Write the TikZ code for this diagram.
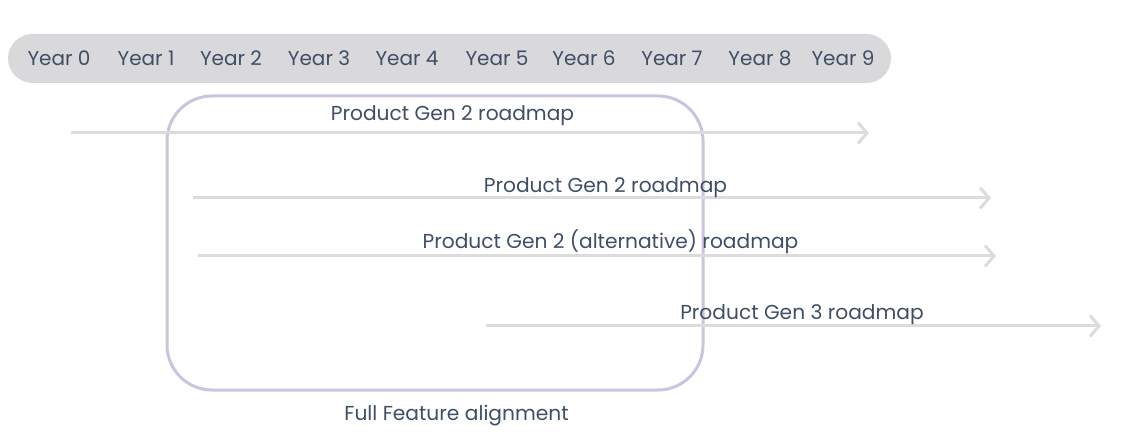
\documentclass[tikz,border=0pt]{standalone}
\usepackage{fontspec}
\setmainfont{Poppins}
\usetikzlibrary{arrows.meta}
\definecolor{bargray}{HTML}{D9D9DB}
\definecolor{txt}{HTML}{3F4E66}
\definecolor{arrowgray}{HTML}{DCDCDC}
\definecolor{boxlilac}{HTML}{CDC3DC}
\begin{document}
\begin{tikzpicture}[x=1pt,y=-1pt,
  yearlbl/.style={text=txt,font=\fontsize{20}{22}\selectfont,inner sep=0pt,anchor=base},
  roadlbl/.style={text=txt,font=\fontsize{20.2}{22}\selectfont,inner sep=0pt,anchor=base},
  roadarrow/.style={draw=arrowgray,line width=3pt,-{Straight Barb[length=9pt,width=21pt,line width=3pt]}},
  alignbox/.style={draw=boxlilac,line width=3pt,rounded corners=45pt}]
\useasboundingbox (0,0) rectangle (1138,438);
% year bar
\fill[bargray,rounded corners=24.5pt] (8,34) rectangle (891,83);
\foreach \i/\x in {0/59,1/146,2/231,3/319,4/407,5/497,6/584,7/672,8/760,9/843}
  \node[yearlbl] (y\i) at (\x,65.5) {Year \i};
% alignment box
\draw[alignbox] (167,96) rectangle (703,390);
\node[roadlbl] (fullfeat) at (456.5,420.5) {Full Feature alignment};
% roadmaps
\coordinate (a1s) at (71,133);  \coordinate (a1e) at (869,133);
\coordinate (a2s) at (193,198); \coordinate (a2e) at (991,198);
\coordinate (a3s) at (198,256); \coordinate (a3e) at (996,256);
\coordinate (a4s) at (486,326); \coordinate (a4e) at (1101,326);
\draw[roadarrow] (a1s) -- (a1e);
\draw[roadarrow] (a2s) -- (a2e);
\draw[roadarrow] (a3s) -- (a3e);
\draw[roadarrow] (a4s) -- (a4e);
\node[roadlbl] (l1) at (452.5,120.5) {Product Gen 2 roadmap};
\node[roadlbl] (l2) at (605.5,192.5) {Product Gen 2 roadmap};
\node[roadlbl] (l3) at (610.5,248.5) {Product Gen 2 (alternative) roadmap};
\node[roadlbl] (l4) at (802,319.5) {Product Gen 3 roadmap};
\end{tikzpicture}
\end{document}
